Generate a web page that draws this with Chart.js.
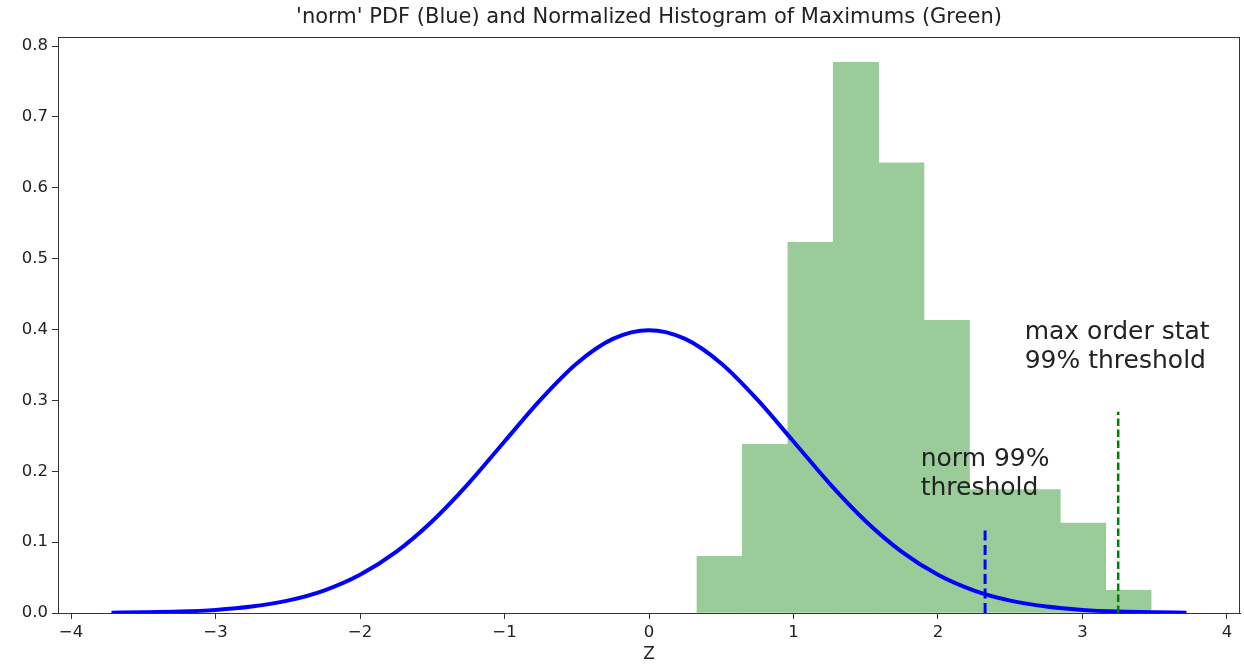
<!DOCTYPE html>
<html>
<head>
<meta charset="utf-8">
<script src="https://cdn.jsdelivr.net/npm/chart.js@4.4.1/dist/chart.umd.min.js"></script>
<style>
  html, body { margin: 0; padding: 0; background: #fff; }
  #wrap { width: 1244px; height: 666px; }
</style>
</head>
<body>
<div id="wrap"><canvas id="histChart"></canvas></div>
<script>
// normal pdf curve
const curveX = [-3.72, -3.5, -3.25, -3.0, -2.75, -2.5, -2.25, -2.0, -1.75, -1.5, -1.25, -1.0, -0.75, -0.5, -0.25, 0,
    0.25, 0.5, 0.75, 1.0, 1.25, 1.5, 1.75, 2.0, 2.25, 2.5, 2.75, 3.0, 3.25, 3.5, 3.72];
const curveY = [0.0004, 0.0009, 0.0020, 0.0044, 0.0091, 0.0175, 0.0317, 0.0540, 0.0863, 0.1295, 0.1826, 0.2420, 0.3011, 0.3521, 0.3867, 0.3989,
    0.3867, 0.3521, 0.3011, 0.2420, 0.1826, 0.1295, 0.0863, 0.0540, 0.0317, 0.0175, 0.0091, 0.0044, 0.0020, 0.0009, 0.0004];

// histogram of maximums (bin centres and density)
const binCenters = [0.489, 0.803, 1.118, 1.432, 1.746, 2.061, 2.375, 2.689, 3.004, 3.318];
const binDensity = [0.080, 0.238, 0.523, 0.777, 0.635, 0.413, 0.174, 0.174, 0.127, 0.032];

// threshold markers
const normThreshold = [2.326, 0.122];
const maxThreshold = [3.247, 0.284];

const titleText = "'norm' PDF (Blue) and Normalized Histogram of Maximums (Green)";
const notes = [
    { x: 1.88, y: 0.207, lines: ['norm 99%', 'threshold'] },
    { x: 2.60, y: 0.387, lines: ['max order stat', '99% threshold'] }
];

const FONT = "'DejaVu Sans', sans-serif";

const extras = {
    id: 'extras',
    afterDraw(chart) {
        const c = chart.ctx;
        const a = chart.chartArea;
        const xs = chart.scales.x, ys = chart.scales.y;
        c.save();
        // frame
        c.strokeStyle = '#333';
        c.lineWidth = 1;
        c.strokeRect(a.left + 0.5, a.top + 0.5, a.right - a.left - 1, a.bottom - a.top);
        // title
        c.fillStyle = '#222';
        c.textAlign = 'center';
        c.textBaseline = 'middle';
        c.font = '21px ' + FONT;
        c.fillText(titleText, (a.left + a.right) / 2, 18);
        // axis label
        c.font = '17px ' + FONT;
        c.fillText('Z', (a.left + a.right) / 2, 655);
        // annotations
        c.textAlign = 'left';
        c.textBaseline = 'alphabetic';
        c.font = '25px ' + FONT;
        notes.forEach(n => {
            const px = xs.getPixelForValue(n.x);
            const py = ys.getPixelForValue(n.y);
            n.lines.forEach((t, i) => c.fillText(t, px, py + i * 29));
        });
        c.restore();
    }
};

const ctx = document.getElementById('histChart').getContext('2d');
const myChart = new Chart(ctx, {
    type: 'bar',
    data: {
        datasets: [{
            label: 'Maximums',
            data: binCenters.map((x, i) => ({ x: x, y: binDensity[i] })),
            backgroundColor: '#99cc99',
            borderWidth: 0,
            barPercentage: 1,
            categoryPercentage: 1,
            order: 3
        }, {
            label: 'norm pdf',
            type: 'line',
            data: curveX.map((x, i) => ({ x: x, y: curveY[i] })),
            borderColor: '#0000ff',
            borderWidth: 4,
            pointRadius: 0,
            cubicInterpolationMode: 'monotone',
            order: 2
        }, {
            label: 'norm 99%',
            type: 'line',
            data: [{ x: normThreshold[0], y: 0 }, { x: normThreshold[0], y: normThreshold[1] }],
            borderColor: '#0000ff',
            borderWidth: 3,
            borderDash: [10, 4.5],
            pointRadius: 0,
            order: 1
        }, {
            label: 'max 99%',
            type: 'line',
            data: [{ x: maxThreshold[0], y: 0 }, { x: maxThreshold[0], y: maxThreshold[1] }],
            borderColor: '#008000',
            borderWidth: 2.5,
            borderDash: [7.5, 3.5],
            pointRadius: 0,
            order: 1
        }]
    },
    options: {
        responsive: true,
        maintainAspectRatio: false,
        animation: false,
        layout: { padding: { top: 37, right: 4, left: 0, bottom: 0 } },
        plugins: {
            legend: { display: false },
            tooltip: { enabled: false },
            title: { display: false }
        },
        scales: {
            x: {
                type: 'linear',
                min: -4.09,
                max: 4.09,
                offset: false,
                afterFit: s => { s.height = 53; },
                grid: { display: true, offset: false, drawOnChartArea: false, drawTicks: true, tickLength: 6, color: '#333' },
                border: { display: true, color: '#333' },
                ticks: {
                    stepSize: 1,
                    includeBounds: false,
                    maxRotation: 0,
                    padding: 4,
                    color: '#222',
                    font: { family: FONT, size: 16.5 },
                    callback: v => v < 0 ? '\u2212' + Math.abs(v) : String(v)
                }
            },
            y: {
                min: 0,
                max: 0.8127,
                afterFit: s => { s.width = 58; },
                grid: { display: true, offset: false, drawOnChartArea: false, drawTicks: true, tickLength: 6, color: '#333' },
                border: { display: true, color: '#333' },
                ticks: {
                    stepSize: 0.1,
                    includeBounds: false,
                    padding: 4,
                    color: '#222',
                    font: { family: FONT, size: 16.5 },
                    callback: v => Number(v).toFixed(1)
                }
            }
        }
    },
    plugins: [extras]
});
</script>
</body>
</html>
